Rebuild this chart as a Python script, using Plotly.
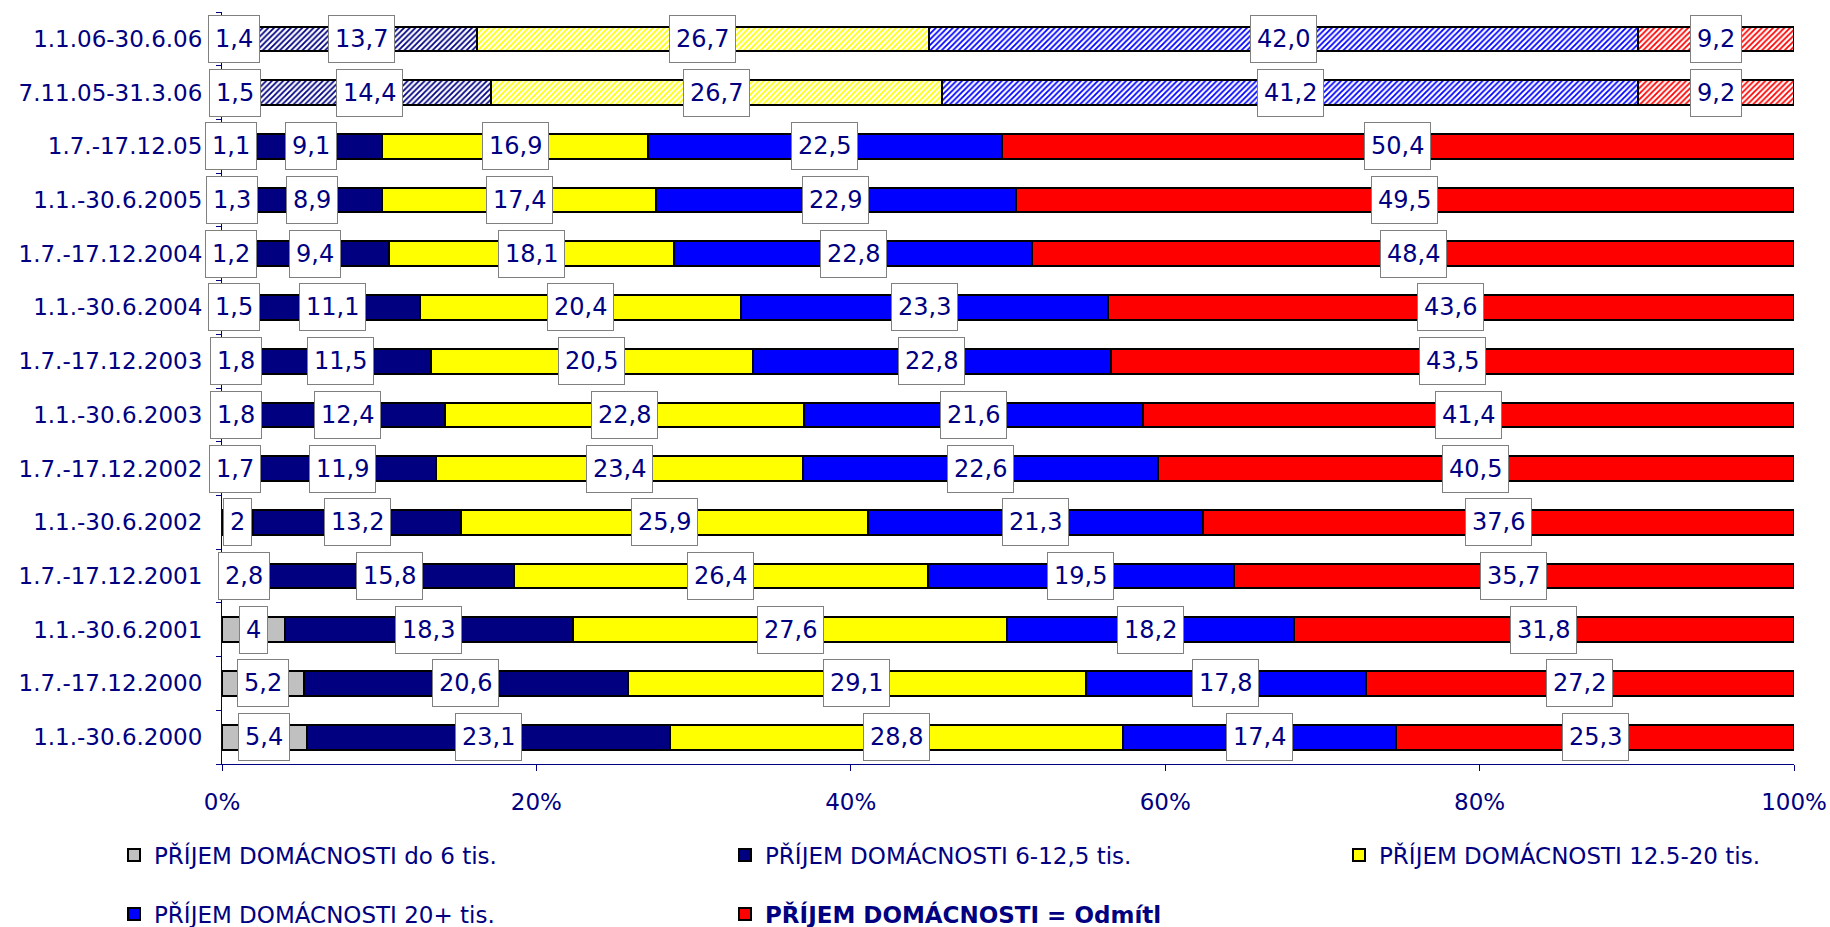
import plotly.graph_objects as go

# Survey periods, oldest first (drawn bottom to top)
periods = [
    "1.1.-30.6.2000", "1.7.-17.12.2000", "1.1.-30.6.2001", "1.7.-17.12.2001",
    "1.1.-30.6.2002", "1.7.-17.12.2002", "1.1.-30.6.2003", "1.7.-17.12.2003",
    "1.1.-30.6.2004", "1.7.-17.12.2004", "1.1.-30.6.2005", "1.7.-17.12.05",
    "7.11.05-31.3.06", "1.1.06-30.6.06",
]

income_do6 = [5.4, 5.2, 4, 2.8, 2, 1.7, 1.8, 1.8, 1.5, 1.2, 1.3, 1.1, 1.5, 1.4]
income_6_12 = [23.1, 20.6, 18.3, 15.8, 13.2, 11.9, 12.4, 11.5, 11.1, 9.4, 8.9, 9.1, 14.4, 13.7]
income_12_20 = [28.8, 29.1, 27.6, 26.4, 25.9, 23.4, 22.8, 20.5, 20.4, 18.1, 17.4, 16.9, 26.7, 26.7]
income_20plus = [17.4, 17.8, 18.2, 19.5, 21.3, 22.6, 21.6, 22.8, 23.3, 22.8, 22.9, 22.5, 41.2, 42.0]
income_refused = [25.3, 27.2, 31.8, 35.7, 37.6, 40.5, 41.4, 43.5, 43.6, 48.4, 49.5, 50.4, 9.2, 9.2]

# periods shown with a hatched fill (different survey method)
hatched_periods = ["7.11.05-31.3.06", "1.1.06-30.6.06"]

x_ticks = [0, 20, 40, 60, 80, 100]
x_tick_labels = ["0%", "20%", "40%", "60%", "80%", "100%"]

series = [
    ("PŘÍJEM DOMÁCNOSTI do 6 tis.", income_do6, "#C0C0C0"),
    ("PŘÍJEM DOMÁCNOSTI 6-12,5 tis.", income_6_12, "#000080"),
    ("PŘÍJEM DOMÁCNOSTI 12.5-20 tis.", income_12_20, "#FFFF00"),
    ("PŘÍJEM DOMÁCNOSTI 20+ tis.", income_20plus, "#0000FF"),
    ("<b>PŘÍJEM DOMÁCNOSTI = Odmítl</b>", income_refused, "#FF0000"),
]

FONT = "DejaVu Sans"
NAVY = "#000080"

# plot area in pixels, used to place the separate legends
W, H = 1830, 927
L, R, T, B = 222, 36, 12, 163
pw, ph = W - L - R, H - T - B

fig = go.Figure()

legend_pos = [(114, 855), (725, 855), (1339, 855), (114, 914), (725, 914)]

for i, (name, vals, color) in enumerate(series):
    is_hatched = [p in hatched_periods for p in periods]
    fig.add_trace(go.Bar(
        y=periods,
        x=vals,
        name=name,
        orientation="h",
        showlegend=True,
        legend="legend" if i == 0 else f"legend{i + 1}",
        marker=dict(
            color=color,
            line=dict(color="black", width=2),
            pattern=dict(
                shape=["/" if h else "" for h in is_hatched],
                bgcolor="white",
                fillmode="replace",
                size=4,
                solidity=0.45,
            ),
        ),
        hoverinfo="name+x",
    ))

# value labels in white boxes, centred on each (normalised) segment
annotations = []
for j, period in enumerate(periods):
    row = [s[1][j] for s in series]
    total = sum(row)
    start = 0.0
    for v in row:
        pct = v / total * 100
        annotations.append(dict(
            x=start + pct / 2,
            y=period,
            xref="x",
            yref="y",
            text=str(v).replace(".", ","),
            showarrow=False,
            font=dict(family=FONT, size=24, color=NAVY),
            bgcolor="white",
            bordercolor="#808080",
            borderwidth=1,
            borderpad=6,
            height=34,
        ))
        start += pct

layout_legends = {}
for i, (px, py) in enumerate(legend_pos):
    key = "legend" if i == 0 else f"legend{i + 1}"
    layout_legends[key] = dict(
        x=(px - L) / pw,
        y=(H - B - py) / ph,
        xanchor="left",
        yanchor="middle",
        orientation="h",
        bgcolor="rgba(0,0,0,0)",
        font=dict(family=FONT, size=23, color=NAVY),
    )

fig.update_layout(
    width=W,
    height=H,
    margin=dict(l=L, r=R, t=T, b=B, autoexpand=False),
    barmode="stack",
    barnorm="percent",
    bargap=0.54,
    showlegend=True,
    paper_bgcolor="white",
    plot_bgcolor="white",
    font=dict(family=FONT, size=23, color=NAVY),
    annotations=annotations,
    **layout_legends,
)

fig.update_xaxes(
    range=[0, 100],
    tickvals=x_ticks,
    ticktext=x_tick_labels,
    showgrid=False,
    zeroline=False,
    showline=True,
    linecolor=NAVY,
    linewidth=1,
    ticks="outside",
    ticklen=6,
    tickcolor=NAVY,
    ticklabelstandoff=11,
    tickfont=dict(family=FONT, size=23, color=NAVY),
)

fig.update_yaxes(
    type="category",
    categoryorder="array",
    categoryarray=periods,
    showgrid=False,
    showline=True,
    linecolor=NAVY,
    linewidth=1,
    ticks="outside",
    tickson="boundaries",
    ticklen=5,
    tickcolor=NAVY,
    ticklabelstandoff=14,
    tickfont=dict(family=FONT, size=23, color=NAVY),
)

fig.write_html("out.html")
